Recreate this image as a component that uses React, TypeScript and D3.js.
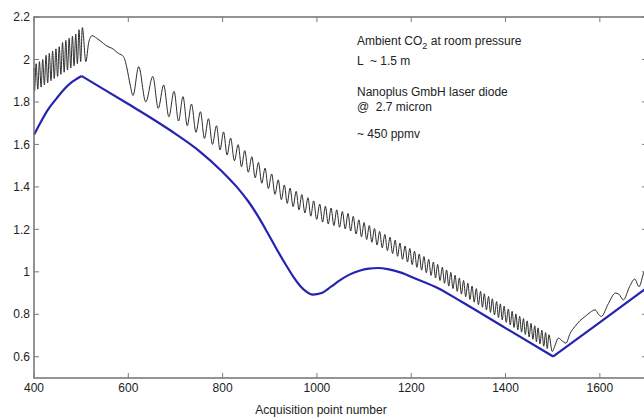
import React from "react";
import * as d3 from "d3";

type P = [number, number];

// Axis ticks
const xTicks = [400, 600, 800, 1000, 1200, 1400, 1600];
const xTickMarks = [400, 600, 800, 1000, 1200, 1400, 1600, 1700];
const yTicks = [0.6, 0.8, 1, 1.2, 1.4, 1.6, 1.8, 2, 2.2];

// Measured (black) signal, split into regions
const signalStart: P[] = [
  [400, 1.96], [401, 1.85], [404.5, 1.98], [408, 1.86], [411.5, 1.99], [415, 1.87],
  [418.5, 2.0], [422, 1.88], [425.5, 2.02], [429, 1.89], [432.5, 2.03], [436, 1.9],
  [439.5, 2.04], [443, 1.91], [446.5, 2.05], [450, 1.92], [453.5, 2.06], [457, 1.93],
  [460.5, 2.08], [464, 1.94], [467.5, 2.09], [471, 1.95], [474.5, 2.1], [478, 1.96],
  [481.5, 2.11], [485, 1.97], [488.5, 2.12], [492, 1.98], [495.5, 2.14], [499, 1.99],
  [502.5, 2.15],
];
const signalBump: P[] = [
  [510, 1.99], [516, 2.08], [523, 2.112], [533, 2.1], [547, 2.076], [557, 2.06],
  [565, 2.053], [579, 2.029], [590, 2.013], [597, 1.96], [604, 1.88], [610, 1.83],
];
const signalFringes: P[] = [
  [622, 1.966], [637, 1.8], [652, 1.92], [663.5, 1.77], [675, 1.88], [686, 1.73],
  [697, 1.85], [706.5, 1.71], [716, 1.825], [725, 1.688], [734, 1.79], [743.5, 1.657],
  [753, 1.754], [761.5, 1.628], [770, 1.721], [778.5, 1.6], [787, 1.688], [794.5, 1.574],
  [802, 1.659], [809.5, 1.55], [817, 1.63], [825, 1.523], [833, 1.599], [840, 1.495],
  [847, 1.571], [854.5, 1.469], [862, 1.542], [869, 1.443], [876, 1.515], [883, 1.417],
  [890, 1.488], [897, 1.392], [904, 1.461], [911, 1.365], [918, 1.433], [924.5, 1.34],
  [931, 1.409], [937, 1.322], [943, 1.394], [949.5, 1.307], [956, 1.379], [962, 1.292],
  [968, 1.364], [974.5, 1.277], [981, 1.349], [987, 1.262], [993, 1.334], [999.5, 1.247],
  [1006, 1.319], [1012, 1.234], [1018, 1.309], [1024, 1.225], [1030, 1.3], [1036, 1.218],
  [1042, 1.292], [1048, 1.21], [1054, 1.284], [1060, 1.202], [1066, 1.275], [1071.5, 1.192],
  [1077, 1.261], [1083, 1.178], [1089, 1.245], [1094.5, 1.165], [1100, 1.232], [1105.5, 1.152],
  [1111, 1.218], [1116.5, 1.139], [1122, 1.204], [1127.5, 1.126], [1133, 1.19], [1138.5, 1.113],
  [1144, 1.176], [1149.5, 1.1], [1155, 1.163], [1160.5, 1.086], [1166, 1.149], [1171, 1.073],
  [1176, 1.136], [1181.5, 1.059], [1187, 1.122], [1192, 1.046], [1197, 1.11], [1202, 1.034],
  [1207, 1.097], [1212, 1.021], [1217, 1.084], [1222, 1.008], [1227, 1.072], [1232, 0.996],
  [1237, 1.059], [1242, 0.983], [1247, 1.046], [1251.5, 0.971], [1256, 1.035], [1261, 0.959],
  [1266, 1.022], [1270.5, 0.946], [1275, 1.009], [1279.5, 0.933], [1284, 0.997], [1288.5, 0.921],
  [1293, 0.984], [1297.5, 0.908], [1302, 0.971], [1306.5, 0.895], [1311, 0.959], [1315.5, 0.883],
  [1320, 0.946], [1324.5, 0.87], [1329, 0.933], [1333.5, 0.857], [1338, 0.921], [1342.5, 0.845],
  [1347, 0.908], [1351, 0.833], [1355, 0.897], [1359.5, 0.821], [1364, 0.884], [1368, 0.809],
  [1372, 0.873], [1376.5, 0.797], [1381, 0.86], [1385, 0.785], [1389, 0.849], [1393, 0.774],
  [1397, 0.838], [1401.5, 0.762], [1406, 0.825], [1410, 0.75], [1414, 0.814], [1418, 0.738],
  [1422, 0.802], [1426, 0.727], [1430, 0.791], [1434, 0.716], [1438, 0.78], [1442, 0.705],
  [1446, 0.769], [1450, 0.693], [1454, 0.757], [1458, 0.682], [1462, 0.746], [1465.5, 0.671],
  [1469, 0.736], [1473, 0.661], [1477, 0.725], [1481, 0.65], [1485, 0.714], [1488.5, 0.639],
  [1492, 0.704], [1499, 0.625],
];
const signalTail: P[] = [
  [1506, 0.66], [1512, 0.688], [1520, 0.675], [1528, 0.664], [1537, 0.71], [1547, 0.742],
  [1558, 0.77], [1569, 0.79], [1580, 0.81], [1590, 0.821], [1597, 0.8], [1603, 0.79],
  [1618, 0.85], [1633, 0.9], [1640, 0.895], [1650, 0.868], [1663, 0.93], [1674, 0.966],
  [1683, 0.93], [1694, 1.0], [1700, 1.01],
];

// Baseline (blue) fit, three pieces
const baselineRise: P[] = [
  [400, 1.645], [413, 1.7], [430, 1.765], [448, 1.817], [465, 1.862], [480, 1.893],
  [490, 1.908], [501, 1.922],
];
const baselineMiddle: P[] = [
  [501, 1.922], [550, 1.857], [600, 1.79], [650, 1.722], [700, 1.65], [750, 1.57],
  [800, 1.47], [830, 1.4], [855, 1.33], [875, 1.262], [895, 1.185], [915, 1.105],
  [935, 1.03], [952, 0.97], [965, 0.932], [978, 0.906], [991, 0.893], [1010, 0.9],
  [1030, 0.93], [1050, 0.962], [1070, 0.988], [1090, 1.005], [1110, 1.015], [1130, 1.018],
  [1150, 1.013], [1180, 0.995], [1207, 0.97], [1257, 0.923], [1306, 0.86], [1400, 0.735],
  [1501, 0.601],
];
const baselineTail: P[] = [
  [1501, 0.601], [1600, 0.762], [1700, 0.925],
];

const notes = [
  "L  ~ 1.5 m",
  "Nanoplus GmbH laser diode",
  "@  2.7 micron",
  "~ 450 ppmv",
];

const W = 644;
const H = 418;
const left = 34;
const right = 647;
const top = 17;
const bottom = 378;
const font = "Liberation Sans, Arial, sans-serif";

export default function App() {
  const x = d3.scaleLinear().domain([400, 1700]).range([left, right]);
  const y = d3.scaleLinear().domain([0.5, 2.2]).range([bottom, top]);
  const line = d3
    .line<P>()
    .x((d) => x(d[0]))
    .y((d) => y(d[1]))
    .curve(d3.curveMonotoneX);

  const signal = [...signalStart, ...signalBump, ...signalFringes, ...signalTail];
  const axisColor = "#7a7a7a";
  const tickLen = 5;
  const noteY = [65, 96, 111, 138];

  return (
    <svg
      width={W}
      height={H}
      style={{ position: "absolute", left: 0, top: 0, background: "#fff" }}
      fontFamily={font}
    >
      <rect x={0} y={0} width={W} height={H} fill="#fff" />
      {/* curves */}
      <path d={line(signal) || ""} fill="none" stroke="#2b2b2b" strokeWidth={1} />
      {[baselineRise, baselineMiddle, baselineTail].map((seg, i) => (
        <path key={i} d={line(seg) || ""} fill="none" stroke="#2424b0" strokeWidth={2.2} />
      ))}
      {/* frame */}
      <rect
        x={left}
        y={top}
        width={right - left}
        height={bottom - top}
        fill="none"
        stroke={axisColor}
        strokeWidth={1.6}
      />
      {xTickMarks.map((t) => (
        <g key={"xt" + t}>
          <line x1={x(t)} x2={x(t)} y1={bottom} y2={bottom - tickLen} stroke={axisColor} strokeWidth={1} />
          <line x1={x(t)} x2={x(t)} y1={top} y2={top + tickLen} stroke={axisColor} strokeWidth={1} />
        </g>
      ))}
      {yTicks.map((t) => (
        <g key={"yt" + t}>
          <line x1={left} x2={left + tickLen} y1={y(t)} y2={y(t)} stroke={axisColor} strokeWidth={1} />
          <line x1={right} x2={right - tickLen} y1={y(t)} y2={y(t)} stroke={axisColor} strokeWidth={1} />
        </g>
      ))}
      {xTicks.map((t) => (
        <text key={"xl" + t} x={x(t)} y={392} fontSize={12} textAnchor="middle" fill="#222">
          {t}
        </text>
      ))}
      {yTicks.map((t) => (
        <text key={"yl" + t} x={30} y={y(t)} dy="0.35em" fontSize={12} textAnchor="end" fill="#222">
          {d3.format("~g")(t)}
        </text>
      ))}
      <text x={321} y={414} fontSize={12} textAnchor="middle" fill="#222">
        Acquisition point number
      </text>
      {/* annotation */}
      <text x={357} y={45} fontSize={12} fill="#222">
        Ambient CO
        <tspan dy={4} fontSize={9}>2</tspan>
        <tspan dy={-4}> at room pressure</tspan>
      </text>
      {notes.map((n, i) => (
        <text key={n} x={357} y={noteY[i]} fontSize={12} fill="#222" style={{ whiteSpace: "pre" }}>
          {n}
        </text>
      ))}
    </svg>
  );
}
